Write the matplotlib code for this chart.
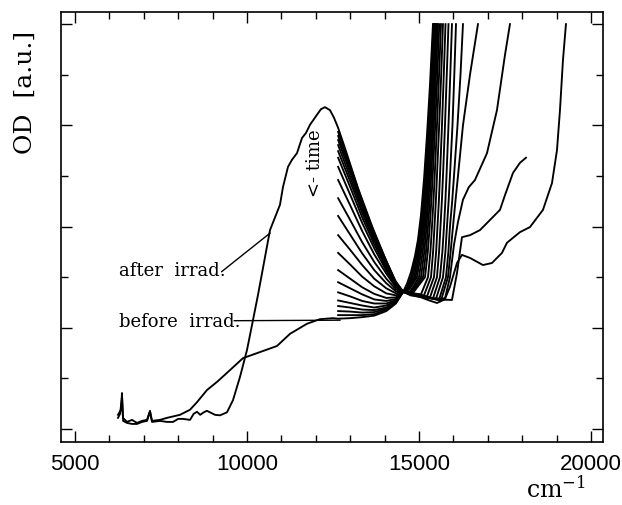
import matplotlib
matplotlib.use("Agg")
import matplotlib.pyplot as plt
from matplotlib.ticker import MultipleLocator

plt.rcParams["mathtext.fontset"] = "dejavuserif"

# ---- data (wavenumber in cm^-1, OD in arbitrary units) ----
# spectrum right after irradiation (full range)
after_x = [6250, 6310, 6366, 6400, 6512, 6660, 6802, 6950, 7093, 7180, 7240, 7470,
           7674, 7849, 8000, 8140, 8343, 8450, 8547, 8640, 8721, 8830, 8924, 9070,
           9215, 9419, 9593, 9797, 10000, 10174, 10320, 10465, 10669, 10843, 10959,
           11046, 11192, 11308, 11453, 11599, 11715, 11831, 12035, 12151, 12267,
           12413, 12530, 12650, 12849, 13227, 13634, 14012, 14302, 14540, 14651,
           14768, 14884, 14971, 15058, 15145, 15233, 15320, 15407]
after_y = [0.22, 0.30, 0.62, 0.16, 0.12, 0.10, 0.10, 0.14, 0.16, 0.34, 0.14, 0.16,
           0.14, 0.14, 0.20, 0.20, 0.18, 0.30, 0.34, 0.28, 0.32, 0.36, 0.33, 0.28,
           0.27, 0.33, 0.57, 1.03, 1.56, 2.15, 2.65, 3.18, 3.93, 4.23, 4.43,
           4.78, 5.18, 5.32, 5.45, 5.75, 5.85, 6.01, 6.21, 6.32, 6.36,
           6.30, 6.15, 5.95, 5.55, 4.76, 4.01, 3.38, 2.94, 2.71, 2.87,
           3.10, 3.42, 3.74, 4.23, 4.92, 5.81, 6.80, 8.00]

# spectrum before irradiation (full range)
before_x = [6250, 6337, 6366, 6395, 6512, 6657, 6802, 6948, 7093, 7180, 7238, 7471,
            7674, 8052, 8343, 8547, 8837, 9128, 9419, 9884, 10378, 10872, 11250,
            11744, 12122, 12500, 12650, 13000, 13350, 13700, 14050, 14330, 14540,
            14760, 15029, 15300, 15523, 15750, 15901, 16105, 16250, 16483, 16860,
            17122, 17413, 17558, 17936, 18227, 18605, 18867, 19012, 19099, 19186, 19273]
before_y = [0.28, 0.38, 0.71, 0.22, 0.14, 0.18, 0.12, 0.16, 0.18, 0.36, 0.16, 0.18,
            0.22, 0.28, 0.38, 0.53, 0.77, 0.93, 1.11, 1.40, 1.52, 1.64, 1.88,
            2.08, 2.17, 2.19, 2.18, 2.19, 2.21, 2.24, 2.33, 2.48, 2.71,
            2.64, 2.61, 2.54, 2.49, 2.56, 2.81, 3.28, 3.44, 3.38, 3.24,
            3.28, 3.48, 3.68, 3.89, 3.99, 4.33, 4.86, 5.51, 6.30, 7.29, 8.00]

# time series (measured from 12650 cm^-1 on), decaying after irradiation
cross_x, cross_y = 14540, 2.71
desc_x = [12650, 13000, 13350, 13700, 14050, 14330]
desc_y = [
    [5.87, 5.20, 4.50, 3.87, 3.32, 2.90],
    [5.79, 5.13, 4.45, 3.84, 3.30, 2.89],
    [5.71, 5.07, 4.40, 3.81, 3.28, 2.88],
    [5.61, 4.98, 4.34, 3.76, 3.25, 2.87],
    [5.49, 4.89, 4.27, 3.71, 3.22, 2.86],
    [5.36, 4.78, 4.18, 3.65, 3.18, 2.84],
    [5.18, 4.63, 4.07, 3.57, 3.13, 2.82],
    [4.92, 4.42, 3.91, 3.45, 3.07, 2.80],
    [4.56, 4.13, 3.69, 3.30, 2.97, 2.76],
    [4.21, 3.84, 3.47, 3.14, 2.88, 2.72],
    [3.83, 3.54, 3.24, 2.97, 2.78, 2.68],
    [3.48, 3.25, 3.01, 2.82, 2.68, 2.64],
    [3.14, 2.97, 2.80, 2.67, 2.59, 2.60],
    [2.90, 2.78, 2.66, 2.56, 2.53, 2.57],
    [2.70, 2.62, 2.53, 2.48, 2.48, 2.55],
    [2.54, 2.49, 2.44, 2.40, 2.44, 2.53],
    [2.43, 2.40, 2.36, 2.35, 2.40, 2.52],
]
# point just past the isosbestic point, before the steep rise
low_pts = [(14643, 2.78), (14662, 2.78), (14682, 2.78), (14702, 2.77), (14721, 2.76),
           (14747, 2.72), (14773, 2.71), (14799, 2.70), (14826, 2.69),
           (15058, 2.66), (15145, 2.64), (15233, 2.62), (15320, 2.60),
           (15407, 2.58), (15494, 2.57), (15581, 2.55), (15640, 2.54)]
# wavenumber where each curve reaches the OD levels below
rise_levels = [3, 3.5, 4, 4.5, 5, 6, 7, 8]
rise_x = [
    [14768, 14934, 15044, 15119, 15180, 15277, 15358, 15422],
    [14811, 14965, 15067, 15141, 15201, 15294, 15372, 15436],
    [14855, 14998, 15093, 15163, 15221, 15311, 15387, 15451],
    [14898, 15029, 15116, 15185, 15242, 15329, 15401, 15465],
    [14942, 15064, 15145, 15209, 15262, 15349, 15416, 15480],
    [15000, 15108, 15180, 15241, 15291, 15372, 15436, 15500],
    [15058, 15154, 15218, 15274, 15320, 15399, 15462, 15523],
    [15116, 15204, 15262, 15313, 15355, 15431, 15494, 15552],
    [15175, 15257, 15311, 15359, 15399, 15471, 15535, 15590],
    [15262, 15332, 15378, 15421, 15457, 15523, 15584, 15640],
    [15349, 15410, 15451, 15491, 15523, 15587, 15646, 15698],
    [15436, 15499, 15538, 15578, 15610, 15669, 15721, 15771],
    [15523, 15584, 15625, 15665, 15698, 15756, 15808, 15858],
    [15610, 15680, 15727, 15767, 15800, 15858, 15910, 15959],
    [15698, 15768, 15814, 15862, 15901, 15974, 16027, 16076],
    [15785, 15855, 15901, 15965, 16018, 16120, 16207, 16279],
    [15843, 15920, 15989, 16060, 16134, 16279, 16483, 16715],
]

# late curve reaching the top near 17650 cm^-1 (small shoulder near 16300)
c18_x = [12650, 13000, 13350, 13700, 14050, 14330, 14540, 15000, 15500, 15756,
         15901, 16018, 16134, 16279, 16450, 16628, 16977, 17267, 17500, 17645]
c18_y = [2.33, 2.32, 2.30, 2.31, 2.38, 2.51, 2.71, 2.62, 2.58, 2.58,
         3.00, 3.64, 4.09, 4.53, 4.78, 4.92, 5.45, 6.30, 7.39, 8.00]

# last curve of the series, with shoulder near 16300 cm^-1
last_x = [12650, 13000, 13350, 13700, 14050, 14330, 14540, 14900, 15500, 15959,
          16105, 16250, 16366, 16483, 16773, 16977, 17355, 17500, 17733, 17936, 18111]
last_y = [2.25, 2.25, 2.25, 2.27, 2.36, 2.50, 2.71, 2.63, 2.56, 2.55,
          3.08, 3.79, 3.81, 3.83, 3.93, 4.07, 4.33, 4.62, 5.06, 5.26, 5.36]

# ---- plot ----
fig = plt.figure(figsize=(6.22, 5.05), dpi=100)
ax = fig.add_axes([61 / 622, 1 - 442 / 505, 542 / 622, 430 / 505])

lw = 1.35
ax.plot(after_x, after_y, color="black", lw=lw)
ax.plot(before_x, before_y, color="black", lw=lw)
for i in range(len(desc_y)):
    xs = desc_x + [cross_x, low_pts[i][0]] + rise_x[i]
    ys = desc_y[i] + [cross_y, low_pts[i][1]] + rise_levels
    ax.plot(xs, ys, color="black", lw=lw)
ax.plot(c18_x, c18_y, color="black", lw=lw)
ax.plot(last_x, last_y, color="black", lw=lw)

# annotations
serif = "DejaVu Serif"
ax.text(6279, 3.12, "after  irrad.", family=serif, fontsize=13, ha="left", va="center")
ax.plot([9265, 10669], [3.11, 3.87], color="black", lw=1.0)
ax.text(6279, 2.11, "before  irrad.", family=serif, fontsize=13, ha="left", va="center")
ax.plot([9631, 12703], [2.14, 2.15], color="black", lw=1.0)
ax.text(11971, 5.26, "<- time", family=serif, fontsize=13, rotation=90,
        ha="center", va="center")

ax.set_xlim(4593, 20350)
ax.set_ylim(-0.257, 8.24)
ax.xaxis.set_major_locator(MultipleLocator(5000))
ax.xaxis.set_minor_locator(MultipleLocator(1000))
ax.yaxis.set_major_locator(MultipleLocator(2))
ax.yaxis.set_minor_locator(MultipleLocator(1))
ax.tick_params(which="both", direction="in", top=True, right=True, width=1.0)
ax.tick_params(which="major", length=8)
ax.tick_params(which="minor", length=5)
ax.tick_params(axis="x", labelsize=16, pad=9, labelfontfamily="Liberation Sans")
ax.tick_params(axis="y", labelleft=False)
for s in ax.spines.values():
    s.set_linewidth(1.2)

fig.text(25 / 622, 1 - 92 / 505, "OD  [a.u.]", family=serif, fontsize=18,
         rotation=90, ha="center", va="center")
fig.text(526 / 622, 1 - 498 / 505, r"cm$^{-1}$", family=serif, fontsize=17,
         ha="left", va="baseline")

fig.savefig("out.png", dpi=100)
